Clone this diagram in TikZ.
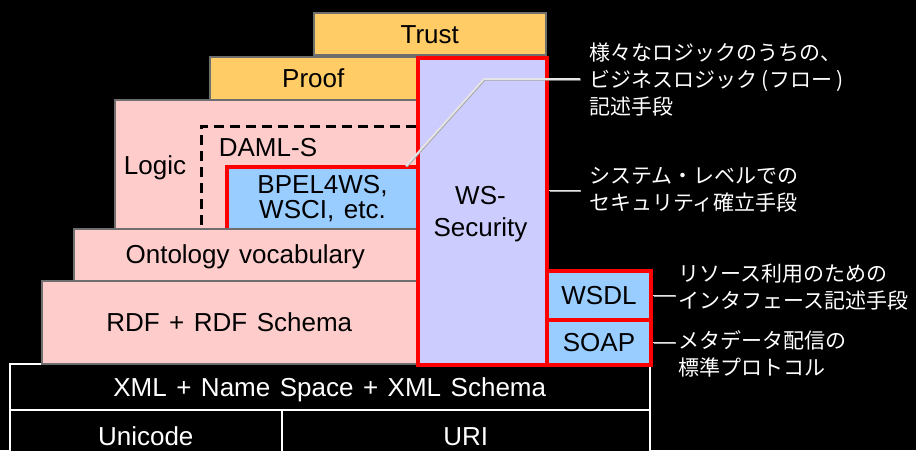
\documentclass[tikz,border=0pt]{standalone}
\usepackage{fontspec}
\setmainfont{Liberation Sans}
\newfontfamily\jpfont{Noto Sans CJK JP}
\usetikzlibrary{calc}
\definecolor{layerorange}{HTML}{FFCC66}
\definecolor{layerpink}{HTML}{FFCCCC}
\definecolor{layerlavender}{HTML}{CCCCFF}
\definecolor{layerblue}{HTML}{99CCFF}
\definecolor{edgegray}{HTML}{6E6E6E}
\definecolor{hotred}{HTML}{FF0000}
\newcommand{\layerfont}{\fontsize{26}{31}\selectfont\spaceskip=9.5pt plus 2pt\relax}
\begin{document}
\begin{tikzpicture}[x=1pt,y=-1pt,
  layer/.style={draw=edgegray, line width=1.5pt, anchor=north west, inner sep=0pt,
    font=\layerfont, text=black, align=center},
  single/.style={text height=18.5pt, text depth=0pt},
  redbox/.style={layer, draw=hotred, line width=4pt},
  base/.style={layer, draw=white, fill=black, text=white},
  plain/.style={inner sep=0pt, font=\layerfont, text=black, text height=18.5pt, text depth=0pt},
  jplabel/.style={inner sep=0pt, anchor=west, text=white, align=left,
    font=\jpfont\fontsize{21}{27}\selectfont},
  conn/.style={draw=white!90!black, line width=1.8pt,
    preaction={draw=gray!70, line width=1.8pt, transform canvas={shift={(0.7pt,-0.7pt)}}}}]

% background
\fill[black] (0,0) rectangle (916,450);
\useasboundingbox (0,0) rectangle (916,450);

% foundation
\node[base, single, minimum width=640, minimum height=46] (xml) at (9,363) {XML + Name Space + XML Schema};
\node[base, single, minimum width=272, minimum height=52] (unicode) at (9,409) {Unicode};
\node[base, single, minimum width=368, minimum height=52] (uri) at (281,409) {URI};

% upper layers of the stack
\node[layer, single, fill=layerorange, minimum width=232, minimum height=42] (trust) at (313,12) {Trust};
\node[layer, single, fill=layerorange, minimum width=207, minimum height=43] (proof) at (209,56) {Proof};
\node[layer, fill=layerpink, minimum width=302, minimum height=129] (logic) at (114,99) {};
\node[plain] (logiclabel) at (155,165) {Logic};

% DAML-S region (dashed)
\draw[line width=3pt, dash pattern=on 10pt off 6pt] (416,126) -- (201,126) -- (201,228);
\node[plain] (daml) at (268,147) {DAML-S};

\node[redbox, fill=layerblue, minimum width=191, minimum height=63] (bpel) at (225,165)
  {BPEL4WS,\\[-6pt]WSCI, etc.};

\node[layer, fill=layerpink, minimum width=343, minimum height=52, text height=18.5pt, text depth=2pt] (onto) at (73,228) {Ontology vocabulary};
\node[layer, single, fill=layerpink, minimum width=375, minimum height=83] (rdf) at (41,280) {RDF + RDF Schema};

% web-service column
\node[redbox, fill=layerlavender, minimum width=129, minimum height=307] (wss) at (416,56) {};
\node[inner sep=0pt, font=\layerfont, text=black, align=center] (wsslabel) at (480.5,214)
  {WS-\\[1pt]Security};
\node[redbox, single, fill=layerblue, minimum width=104, minimum height=49] (wsdl) at (545,269) {WSDL};
\node[redbox, single, fill=layerblue, minimum width=104, minimum height=45] (soap) at (545,318) {SOAP};

% annotations
\node[jplabel] (l1) at (589,80) {様々なロジックのうちの、\\ビジネスロジック (フロー )\\記述手段};
\node[jplabel] (l2) at (589,190) {システム・レベルでの\\セキュリティ確立手段};
\node[jplabel] (l3) at (678,287) {リソース利用のための\\インタフェース記述手段};
\node[jplabel] (l4) at (678,354) {メタデータ配信の\\標準プロトコル};

\coordinate (b1) at (484,79);
\draw[conn] ($(bpel.north east)+(-14,1)$) -- (b1) -- ($(l1.west |- b1)+(-9,0)$);
\draw[conn] ($(wss.east)+(0,-21)$) -- ($(l2.west |- wss.east)+(-9,-21)$);
\draw[conn] (wsdl.east) -- ($(l3.west |- wsdl.east)+(-3,0)$);
\draw[conn] (soap.east) -- ($(l4.west |- soap.east)+(-3,0)$);
\end{tikzpicture}
\end{document}
